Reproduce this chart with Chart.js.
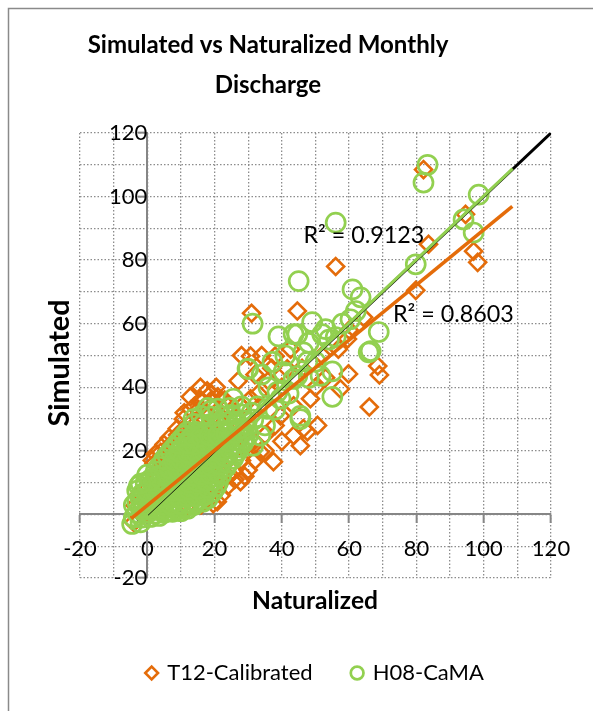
<!DOCTYPE html>
<html>
<head>
<meta charset="utf-8">
<title>Simulated vs Naturalized Monthly Discharge</title>
<script src="https://cdn.jsdelivr.net/npm/chart.js@4.4.1/dist/chart.umd.min.js"></script>
<style>
  html, body { margin: 0; padding: 0; background: #ffffff; }
</style>
</head>
<body>
<canvas id="chart" width="593" height="711"></canvas>
<script>
// chart text
const titleLines = ["Simulated vs Naturalized Monthly", "Discharge"];
const xTitle = "Naturalized";
const yTitle = "Simulated";
const seriesNames = ["T12-Calibrated", "H08-CaMA"];
const r2Text = ["R\u00B2 = 0.8603", "R\u00B2 = 0.9123"];

// axis ticks (labelled every 20, grid every 10)
const axisTicks = [-20, 0, 20, 40, 60, 80, 100, 120];

// [naturalized, simulated]
const t12Pairs = [
  [-4,-2.5],[-3.6,2.8],[-2.7,6],[-1,0],[0,3],[1,1],[2,4],[3,7],[3.9,14.4],[2.4,19],
  [3.9,17.6],[5.5,18.5],[4.5,16],[5,10],[6,5],[7.7,7.2],[8,12],[9,9],[10,14],[11.9,2.8],
  [12,6],[13,11],[14,16],[15,9],[16.7,7.2],[18.8,5],[19.6,3.4],[20.8,4],[20.8,9],[22,13],
  [23.8,12.2],[25.6,13.5],[27.7,10.3],[24,18],[26,21],[28,17],[30,22],[33.6,19.7],[37.5,16.6],[35,25],
  [43.5,24.8],[45.5,21.6],[46.4,27],[8.9,27],[10.7,30],[12.8,37],[15.8,40],[15.2,33],[18.8,35.7],[17.8,31.6],
  [17.8,38.9],[20.5,40],[30.7,49.8],[38,49.8],[30.7,36.4],[39.6,31],[47.6,26],[50.6,28],[43.5,34.2],[48.5,36.4],
  [57.4,39.5],[41.6,45.8],[31,63.3],[44.6,64],[56,78],[64.3,62],[59.5,55.2],[56.8,52],[42.6,52],[68.5,46.7],
  [59.8,44.2],[69,43.9],[66,33.8],[79.8,70.5],[82.1,108.5],[83.6,85],[94.6,94.4],[97,82.8],[98.2,79.3],[22,28],
  [26,30],[28,34],[33,38],[36,42],[12,20],[10,24],[6,20],[52,50],[60,58],[53,43],
  [25,25],[20,20],[15,22],[3,12],[0,8],[34,50],[37,46],[28,50],[27,42],[32,44],
  [1.5,17],[6.5,14],[17,26],[21,30],[24,34],[40,40],[46,46],[50,40],[38,28],[29,27],
  [7,22],[9,25],[11,27],[13,29],[14,34],[16,36],[13,33],[11,32],[19,38],[21,37],
  [23,36],[9,21],[5,22],[2,16],[4,19.5],[6.5,24],[16,3],[22,6],[24,9],[26,11],
  [30,14],[32,17],[29,12],[35,20],[40,23]
];

const h08Pairs = [
  [-4.5,-3],[-2,-2.5],[-4,-1],[-1.5,-1],[1,-0.8],[3.5,-0.5],
  [-3,0.5],[0,0.5],[2.5,0.3],[5,0.5],[7.5,0.8],[10,1],
  [-2,2],[1,2],[4,2],[6.5,2.2],[9,2.3],[11.5,2.5],[14,3],
  [-3,4],[0,4],[3,4],[5.5,4],[8,4.2],[10.5,4.3],[13,4.5],[15.5,4.8],[18,5],
  [-1.5,6.5],[1.5,6],[4,6.2],[7,6],[9.5,6.3],[12,6.5],[14.5,6.6],[17,7],[19.5,7.2],
  [-2.5,9],[0.5,8.5],[3,8.3],[6,8.4],[8.5,8.5],[11,8.7],[13.5,9],[16,9.2],[18.5,9.5],[21,10],
  [1,11],[4,10.8],[7,10.5],[9.5,10.7],[12,11],[14.5,11.2],[17,11.5],[19.5,11.8],[22,12.5],
  [2.5,13.5],[5.5,13.2],[8,13],[10.5,13.2],[13,13.5],[15.5,13.6],[18,14],[20.5,14.3],[23.5,15],
  [4.5,16],[7.5,15.8],[10,15.5],[12.5,15.7],[15,16],[17.5,16.2],[20,16.5],[22.5,17],[25.5,17.5],
  [6,18.5],[9,18.3],[11.5,18],[14,18.3],[16.5,18.5],[19,18.8],[21.5,19],[24,19.5],[27,20],
  [8,21],[10.5,21],[13,20.8],[15.5,21],[18,21.2],[20.5,21.4],[23,21.8],[25.5,22],[28.5,22.5],
  [10,23.5],[12.5,23.5],[15,23.3],[17.5,23.5],[20,23.8],[22.5,24],[25,24.3],[27.5,24.6],[30,25],
  [12,26],[14.5,26],[17,25.8],[19.5,26],[22,26.2],[24.5,26.5],[27,26.8],[29.5,27],
  [14,28.5],[16.5,28.3],[19,28.5],[21.5,28.8],[24,29],[26.5,29.2],[29,29.5],[31.5,29.8],
  [16,31],[19,30.8],[22,31],[25,31.3],[28,31.5],[31,32],
  [18,33.5],[21,33.3],[24.5,33.5],[28,34],[35.7,33.2],
  [-1.5,1.2],[1.5,1.3],[4,1.2],[6.5,1],[9,1.5],[12,1.8],
  [-4,3],[-1,3],[2,3],[4.5,3],[7,3.2],[9.5,3.3],[12,3.6],[14.5,3.8],[16.5,4],
  [-2,5],[0.5,5],[2,5.3],[4.5,5.2],[7,5.2],[9.5,5.4],[12,5.6],[14.5,5.8],[17,6],
  [-3,7.5],[0,7.3],[2.5,7.2],[5,7.3],[7.5,7.4],[10,7.6],[12.5,7.8],[15,8],[18,8.4],[20.5,8.8],
  [-0.5,10],[2,9.7],[5,9.6],[7.5,9.6],[10,9.8],[12.5,10],[15,10.3],[17.5,10.5],[20,10.8],
  [0,12.5],[3,12],[6,12],[8.5,11.8],[11,12],[13.5,12.2],[16,12.5],[18.5,12.8],[21,13.2],
  [3.5,15],[6.5,14.5],[9,14.3],[11.5,14.5],[14,14.8],[16.5,15],[19,15.2],[21.5,15.6],[24,16.2],
  [5,17.3],[8,17],[10.5,16.8],[13,17],[15.5,17.2],[18,17.4],[20.5,17.7],[23,18.2],[26,18.8],
  [7,19.8],[9.5,19.6],[12,19.4],[14.5,19.6],[17,19.8],[19.5,20],[22,20.3],[24.5,20.7],[27.5,21.2],
  [9,22.3],[11.5,22.2],[14,22],[16.5,22.3],[19,22.5],[21.5,22.7],[24,23],[26.5,23.3],[29,23.7],
  [11,24.8],[13.5,24.7],[16,24.5],[18.5,24.8],[21,25],[23.5,25.3],[26,25.6],[28.5,25.9],
  [13.7,30],[0.9,10.7],[-2,9.7],[12.2,22.3],[29.8,45.8],[27.7,27],[31.5,21.6],[33.6,24.8],[39.6,36.4],[43.5,42.6],
  [47.6,48],[45.5,31],[18.8,32.6],[25.6,36.4],[32.7,34],[38.7,38.6],[30,45.8],[37.2,48],[40.5,44.8],[44.6,43.6],
  [51.5,43.6],[55,45],[55,37],[45.5,30],[39,56],[44.6,56.7],[53,58.3],[56,55.8],[46.4,51],[31.3,60],
  [45,73.4],[61,70.8],[63.4,68.3],[49,60.5],[43.5,56.7],[52,56.7],[60.4,61.4],[68.8,57.4],[65.8,51],[54,55],
  [66.4,51.4],[79.8,78.7],[56,91.8],[83.3,110],[82.1,104.4],[98.5,100.6],[94,92.8],[97,88.7],[35,28],[38,33],
  [42,38],[48,43],[36,40],[34,44],[41,50],[50,48],[58,60],[62,64],[48,54]
];

// linear trend lines and the 1:1 line (end points)
const t12TrendX = [-4.8, 108.5];
const t12TrendY = [-1.3, 96.9];
const h08TrendX = [-5, 108.6];
const h08TrendY = [-4.7, 108.8];
const oneToOneX = [0, 120];
const oneToOneY = [0, 120];

const FONT = "Lato, 'Open Sans', sans-serif";
const ORANGE = "#E46C0A";
const GREEN = "#92D050";
const GRID = "#8c8c8c";
const AXIS = "#868686";

function toPoints(pairs) {
  return pairs.map((p) => ({ x: p[0], y: p[1] }));
}

function toLine(xs, ys) {
  return xs.map((x, i) => ({ x: x, y: ys[i] }));
}

// font size that makes `text` about `width` px wide
function fitSize(ctx, text, weight, width) {
  ctx.font = weight + " 100px " + FONT;
  return (100 * width) / ctx.measureText(text).width;
}

// titles, R² labels and the outer frame
const decor = {
  id: "decor",
  beforeDraw(chart) {
    const ctx = chart.ctx;
    ctx.save();
    ctx.strokeStyle = "#8a8a8a";
    ctx.lineWidth = 1.5;
    ctx.strokeRect(8.5, 8.5, 700, 800);
    ctx.restore();
  },
  afterDraw(chart) {
    const { ctx, scales } = chart;
    ctx.save();
    ctx.fillStyle = "#000";
    ctx.textAlign = "center";
    ctx.textBaseline = "middle";

    let size = fitSize(ctx, titleLines[0], "bold", 361);
    ctx.font = "bold " + size + "px " + FONT;
    titleLines.forEach((t, i) => ctx.fillText(t, 268, 45 + i * 40));

    size = fitSize(ctx, xTitle, "bold", 126);
    ctx.font = "bold " + size + "px " + FONT;
    ctx.fillText(xTitle, 315, 601);

    size = fitSize(ctx, yTitle, "bold", 127);
    ctx.font = "bold " + size + "px " + FONT;
    ctx.save();
    ctx.translate(60, 363);
    ctx.rotate(-Math.PI / 2);
    ctx.fillText(yTitle, 0, 0);
    ctx.restore();

    // R² labels anchored in data units
    const anchors = [[73, 63], [46.4, 87.8]];
    size = fitSize(ctx, r2Text[0], "normal", 121);
    ctx.font = size + "px " + FONT;
    ctx.textAlign = "left";
    r2Text.forEach((t, i) => {
      ctx.fillText(t, scales.x.getPixelForValue(anchors[i][0]), scales.y.getPixelForValue(anchors[i][1]));
    });
    ctx.restore();
  },
};

function axisOptions(pos, pad) {
  return {
    type: "linear",
    min: -20,
    max: 120,
    position: pos,
    ticks: {
      stepSize: 10,
      autoSkip: false,
      maxRotation: 0,
      padding: pad,
      color: "#000",
      font: { family: FONT, size: 22 },
      callback: (v) => (axisTicks.includes(Math.round(v)) ? String(Math.round(v)) : ""),
    },
    grid: {
      color: GRID,
      lineWidth: 1.3,
      tickLength: 8,
      tickWidth: 2,
      tickColor: (c) => (c.tick && axisTicks.includes(Math.round(c.tick.value)) ? AXIS : "rgba(0,0,0,0)"),
    },
    border: { display: true, color: AXIS, width: 2, dash: [1.5, 2] },
  };
}

new Chart(document.getElementById("chart"), {
  type: "scatter",
  data: {
    datasets: [
      {
        label: seriesNames[0],
        data: toPoints(t12Pairs),
        pointStyle: "rectRot",
        pointRadius: 8.5,
        borderWidth: 2.6,
        borderColor: ORANGE,
        backgroundColor: "rgba(0,0,0,0)",
        order: 5,
      },
      {
        label: seriesNames[1],
        data: toPoints(h08Pairs),
        pointStyle: "circle",
        pointRadius: 9.5,
        borderWidth: 2.7,
        borderColor: GREEN,
        backgroundColor: "rgba(0,0,0,0)",
        order: 4,
      },
      {
        label: "1:1",
        data: toLine(oneToOneX, oneToOneY),
        showLine: true,
        pointRadius: 0,
        borderWidth: 3,
        borderColor: "#000",
        order: 3,
      },
      {
        label: "H08 trend",
        data: toLine(h08TrendX, h08TrendY),
        showLine: true,
        pointRadius: 0,
        borderWidth: 3,
        borderColor: GREEN,
        order: 2,
      },
      {
        label: "T12 trend",
        data: toLine(t12TrendX, t12TrendY),
        showLine: true,
        pointRadius: 0,
        borderWidth: 3.5,
        borderColor: ORANGE,
        order: 1,
      },
    ],
  },
  options: {
    responsive: false,
    animation: false,
    events: [],
    layout: { padding: { left: 80, right: 42, top: 133, bottom: 17 } },
    scales: {
      x: axisOptions({ y: 0 }, 13),
      y: axisOptions({ x: 0 }, 16),
    },
    plugins: {
      tooltip: { enabled: false },
      legend: {
        position: "bottom",
        // empty title only keeps the gap between plot and legend
        title: { display: true, text: "", padding: { top: 29.6, bottom: 0 } },
        labels: {
          filter: (item) => item.datasetIndex < 2,
          sort: (a, b) => a.datasetIndex - b.datasetIndex,
          usePointStyle: true,
          boxWidth: 9,
          boxHeight: 9,
          padding: 40,
          color: "#000",
          font: { family: FONT, size: 22 },
        },
      },
    },
  },
  plugins: [decor],
});
</script>
</body>
</html>
